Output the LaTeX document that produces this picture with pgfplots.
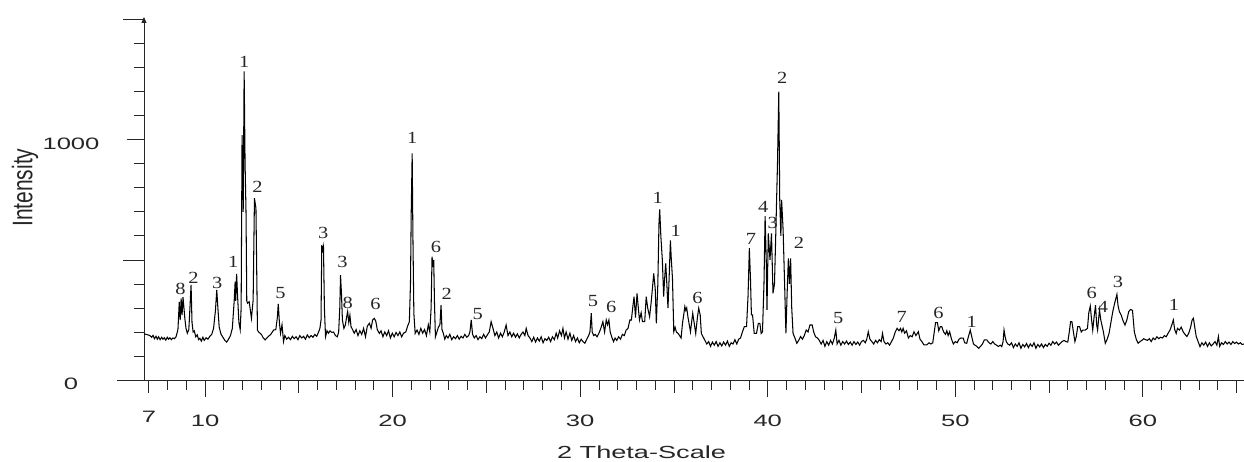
\documentclass[border=0pt]{standalone}
\usepackage{pgfplots}
\pgfplotsset{compat=1.18}
\usepackage{fontspec}
\usetikzlibrary{arrows.meta}
\setmainfont{Liberation Sans}
\newfontfamily\axisfont[FakeStretch=1.55]{Liberation Sans}
\newfontfamily\peakfont[FakeStretch=1.2]{Liberation Serif}

% phase label above a reflection
\newcommand{\phase}[3]{\node[font=\peakfont\fontsize{17}{17}\selectfont, text=black!85, inner sep=0pt] at (axis cs:#1,#2) {#3};}

\begin{document}
\begin{tikzpicture}
\path[use as bounding box] (-144pt,-82pt) rectangle (1100pt,380pt);
\begin{axis}[
  at={(0,0)}, anchor=south west,
  scale only axis, width=1100pt, height=363pt,
  xmin=6.74, xmax=65.4, ymin=0, ymax=1512,
  clip=false,
  axis x line*=bottom, axis y line*=left,
  x axis line style={-, line width=0.9pt, black!85},
  y axis line style={-{Triangle[length=6pt,width=5pt]}, line width=0.9pt, black!85},
  tick align=outside,
  every tick/.style={black!85, line width=0.9pt},
  xtick={10,20,...,60},
  minor xtick={7,8,...,65},
  extra x ticks={7,15,25,35,45,55,65},
  extra x tick labels={7,,,,,,},
  extra x tick style={major tick length=13pt},
  ytick={0,1000},
  minor ytick={100,200,...,1500},
  extra y ticks={500,1500},
  extra y tick labels={},
  extra y tick style={major tick length=21pt},
  major tick length=17pt,
  minor tick length=10pt,
  /pgf/number format/assume math mode=true,
  /pgf/number format/1000 sep={},
  ticklabel style={font=\axisfont\fontsize{16.5}{18}\selectfont, text=black!85},
  xticklabel={\makebox[0pt][c]{\pgfmathprintnumber{\tick}}},
  yticklabel={\makebox[0pt][c]{\pgfmathprintnumber{\tick}}},
  xticklabel style={anchor=center, yshift=-24pt},
  yticklabel style={anchor=center, xshift=-56pt, yshift=-4pt},
  xlabel={2 Theta-Scale},
  xlabel style={font=\axisfont\fontsize{17.5}{18}\selectfont, text=black!85, at={(axis description cs:0.4523,-0.1983)}, anchor=center},
  ylabel={\scalebox{1}[1.35]{Intensity}},
  ylabel style={font=\fontsize{21}{22}\selectfont, text=black!85, at={(axis description cs:-0.1082,0.530)}, anchor=center},
]
\addplot[black, line width=1.05pt] table {
6.74 192
6.85 190
6.95 188
7.05 185
7.15 178
7.22 186
7.30 172
7.38 182
7.45 170
7.52 180
7.60 168
7.68 178
7.75 170
7.82 176
7.90 166
7.98 178
8.05 170
8.12 176
8.20 168
8.28 175
8.36 172
8.45 180
8.55 210
8.62 325
8.67 250
8.72 340
8.77 270
8.82 345
8.87 300
8.92 255
8.98 215
9.05 195
9.13 210
9.19 300
9.25 396
9.30 240
9.36 200
9.42 205
9.50 180
9.58 188
9.65 168
9.72 174
9.80 162
9.88 178
9.95 165
10.05 176
10.15 170
10.25 182
10.35 190
10.45 215
10.55 290
10.62 375
10.68 300
10.75 220
10.85 190
10.95 178
11.05 165
11.15 158
11.25 170
11.35 185
11.45 215
11.55 330
11.60 410
11.63 330
11.68 442
11.73 350
11.80 240
11.87 210
11.92 300
11.97 1020
12.03 700
12.08 1285
12.13 900
12.18 700
12.22 330
12.26 320
12.35 326
12.47 257
12.56 333
12.63 757
12.71 715
12.79 208
12.85 200
13.00 190
13.10 175
13.20 167
13.35 180
13.50 190
13.65 208
13.77 210
13.85 260
13.90 317
13.96 240
14.02 194
14.10 230
14.18 160
14.25 185
14.35 170
14.45 178
14.55 168
14.65 182
14.75 172
14.85 180
14.95 168
15.05 185
15.15 175
15.25 182
15.35 170
15.45 188
15.55 176
15.65 185
15.75 178
15.85 190
15.95 182
16.05 200
16.12 215
16.18 250
16.22 562
16.27 540
16.31 556
16.36 300
16.42 180
16.50 205
16.58 195
16.66 205
16.75 198
16.85 200
16.95 185
17.05 180
17.12 200
17.18 300
17.22 437
17.27 360
17.32 250
17.40 215
17.48 230
17.55 265
17.60 285
17.66 240
17.72 270
17.78 222
17.86 210
17.95 195
18.05 210
18.15 185
18.25 205
18.35 190
18.45 215
18.55 180
18.65 225
18.76 236
18.85 215
18.93 250
19.02 257
19.10 245
19.18 210
19.29 194
19.38 205
19.48 180
19.58 200
19.68 185
19.78 205
19.88 175
19.98 195
20.08 180
20.18 198
20.28 185
20.38 200
20.48 180
20.58 195
20.70 200
20.80 225
20.89 243
20.95 400
20.99 700
21.04 944
21.08 600
21.13 278
21.20 194
21.30 208
21.40 190
21.50 215
21.60 195
21.70 210
21.80 185
21.90 230
21.98 200
22.05 300
22.10 514
22.15 470
22.19 500
22.23 320
22.28 180
22.36 200
22.44 220
22.52 230
22.58 312
22.63 210
22.70 195
22.78 170
22.86 185
22.95 175
23.05 190
23.15 168
23.25 180
23.35 172
23.45 185
23.55 170
23.65 182
23.75 175
23.85 190
23.95 178
24.05 185
24.12 200
24.19 250
24.26 190
24.35 175
24.45 185
24.55 168
24.65 180
24.75 172
24.85 190
24.95 175
25.05 188
25.15 200
25.25 243
25.35 215
25.45 185
25.55 200
25.65 175
25.75 195
25.85 180
25.95 200
26.05 229
26.15 185
26.25 200
26.35 180
26.45 195
26.55 178
26.65 192
26.75 175
26.85 190
26.95 200
27.05 185
27.12 215
27.22 185
27.32 175
27.42 160
27.52 178
27.62 158
27.72 175
27.82 162
27.92 180
28.02 155
28.12 172
28.22 165
28.32 178
28.42 160
28.52 180
28.62 168
28.72 195
28.80 175
28.90 205
29.00 185
29.08 215
29.16 175
29.25 200
29.35 170
29.45 195
29.55 165
29.65 185
29.75 160
29.85 175
29.95 155
30.05 170
30.15 160
30.25 153
30.35 170
30.45 185
30.52 200
30.59 278
30.64 200
30.72 185
30.80 190
30.90 180
31.00 195
31.10 215
31.21 243
31.30 200
31.39 250
31.46 230
31.53 250
31.60 200
31.70 175
31.78 160
31.86 175
31.95 165
32.05 180
32.15 170
32.25 190
32.35 185
32.45 208
32.55 215
32.65 250
32.73 250
32.80 300
32.87 347
32.95 260
33.03 361
33.10 300
33.16 250
33.25 280
33.32 243
33.44 243
33.52 347
33.60 300
33.70 264
33.78 320
33.85 380
33.92 444
34.00 380
34.06 236
34.14 400
34.20 650
34.24 711
34.30 600
34.38 500
34.45 347
34.50 420
34.56 486
34.62 400
34.68 299
34.74 420
34.81 581
34.86 500
34.92 424
34.99 201
35.06 220
35.13 200
35.22 194
35.30 185
35.38 175
35.46 240
35.50 260
35.58 306
35.63 290
35.68 300
35.75 260
35.88 201
36.00 278
36.16 194
36.25 260
36.32 299
36.40 270
36.46 194
36.55 180
36.65 165
36.75 150
36.85 160
36.95 140
37.05 158
37.15 145
37.25 160
37.35 140
37.45 155
37.55 142
37.65 158
37.75 145
37.85 162
37.95 140
38.05 155
38.15 150
38.25 168
38.35 150
38.45 170
38.55 175
38.65 200
38.75 222
38.87 222
38.95 350
39.02 549
39.08 420
39.13 271
39.19 271
39.28 194
39.40 194
39.50 236
39.58 236
39.65 194
39.72 200
39.80 400
39.86 683
39.92 500
39.96 292
40.03 611
40.12 500
40.20 611
40.28 361
40.36 400
40.43 611
40.52 900
40.59 1201
40.64 750
40.70 600
40.74 750
40.82 625
40.90 400
40.97 194
41.03 350
41.10 507
41.16 400
41.22 507
41.28 300
41.35 194
41.45 175
41.55 153
41.65 165
41.75 181
41.85 170
41.95 185
42.05 208
42.15 200
42.25 229
42.37 229
42.45 200
42.55 180
42.65 175
42.75 165
42.85 150
42.95 165
43.05 140
43.15 160
43.25 145
43.35 165
43.45 150
43.55 175
43.63 208
43.70 150
43.80 165
43.90 145
44.00 160
44.10 150
44.20 162
44.30 148
44.40 158
44.50 145
44.60 160
44.70 148
44.80 158
44.90 145
45.00 160
45.10 165
45.20 155
45.28 170
45.36 201
45.45 170
45.55 160
45.65 150
45.75 165
45.85 155
45.95 168
46.05 160
46.12 194
46.20 160
46.30 150
46.40 155
46.50 145
46.60 160
46.70 175
46.80 200
46.90 215
47.00 205
47.08 215
47.15 200
47.22 215
47.30 195
47.40 205
47.50 175
47.60 185
47.70 180
47.80 201
47.90 185
48.03 201
48.12 170
48.22 160
48.33 146
48.48 146
48.60 155
48.70 150
48.80 155
48.88 200
48.95 239
49.05 239
49.12 205
49.20 222
49.28 222
49.38 200
49.48 190
49.55 205
49.62 185
49.70 201
49.80 170
49.90 150
50.00 160
50.10 155
50.20 170
50.30 175
50.43 174
50.50 155
50.61 153
50.70 180
50.80 208
50.88 180
50.97 150
51.05 145
51.15 140
51.25 132
51.35 140
51.45 150
51.55 167
51.68 167
51.80 155
51.90 150
52.00 160
52.10 150
52.20 145
52.30 140
52.40 145
52.48 139
52.55 160
52.60 208
52.66 180
52.72 160
52.80 150
52.90 145
53.00 155
53.10 135
53.20 150
53.30 140
53.40 155
53.50 132
53.60 148
53.70 138
53.80 152
53.90 135
54.00 150
54.10 140
54.20 155
54.30 132
54.40 148
54.50 138
54.60 150
54.70 135
54.80 148
54.90 140
55.00 153
55.10 145
55.20 160
55.30 150
55.40 158
55.50 145
55.60 153
55.70 160
55.80 165
55.90 160
56.00 158
56.08 200
56.15 243
56.22 243
56.30 200
56.38 160
56.45 180
56.53 222
56.63 222
56.72 200
56.80 208
56.93 208
57.05 215
57.12 280
57.20 308
57.27 250
57.33 208
57.40 260
57.48 312
57.54 230
57.59 208
57.69 292
57.76 250
57.90 200
58.00 153
58.10 170
58.20 194
58.30 240
58.40 285
58.50 320
58.62 357
58.68 310
58.75 285
58.85 270
58.93 250
59.05 229
59.15 250
59.25 285
59.35 294
59.45 290
59.55 200
59.65 170
59.75 153
59.85 160
59.95 165
60.05 172
60.15 168
60.25 165
60.35 172
60.45 160
60.55 175
60.65 168
60.75 180
60.85 172
60.95 178
61.05 175
61.15 185
61.25 180
61.35 195
61.45 208
61.55 230
61.63 250
61.70 210
61.78 194
61.85 215
61.95 208
62.05 220
62.15 201
62.25 190
62.35 181
62.45 195
62.55 220
62.63 250
62.70 257
62.78 215
62.85 181
62.95 160
63.05 139
63.15 155
63.25 145
63.35 158
63.45 140
63.55 155
63.65 142
63.75 150
63.85 160
63.95 145
64.03 181
64.10 140
64.20 155
64.30 148
64.40 160
64.50 150
64.60 158
64.70 148
64.80 160
64.90 152
65.00 158
65.10 150
65.20 155
65.30 148
65.40 150
};
\phase{8.68}{380}{8}
\phase{9.38}{425}{2}
\phase{10.64}{404}{3}
\phase{11.50}{492}{1}
\phase{12.08}{1325}{1}
\phase{12.79}{804}{2}
\phase{14.02}{362}{5}
\phase{16.30}{612}{3}
\phase{17.32}{492}{3}
\phase{17.60}{321}{8}
\phase{19.08}{317}{6}
\phase{21.04}{1008}{1}
\phase{22.31}{554}{6}
\phase{22.88}{358}{2}
\phase{24.54}{275}{5}
\phase{30.68}{329}{5}
\phase{31.66}{304}{6}
\phase{34.14}{758}{1}
\phase{35.09}{621}{1}
\phase{36.26}{342}{6}
\phase{39.10}{588}{7}
\phase{39.76}{721}{4}
\phase{40.26}{654}{3}
\phase{40.77}{1257}{2}
\phase{41.66}{573}{2}
\phase{43.76}{258}{5}
\phase{47.15}{264}{7}
\phase{49.10}{279}{6}
\phase{50.88}{244}{1}
\phase{57.28}{362}{6}
\phase{57.88}{305}{4}
\phase{58.68}{408}{3}
\phase{61.66}{312}{1}
\end{axis}
% x axis line runs on past the intensity axis
\draw[line width=0.9pt, black!85] (-27pt,0) -- (0,0);
\end{tikzpicture}
\end{document}
